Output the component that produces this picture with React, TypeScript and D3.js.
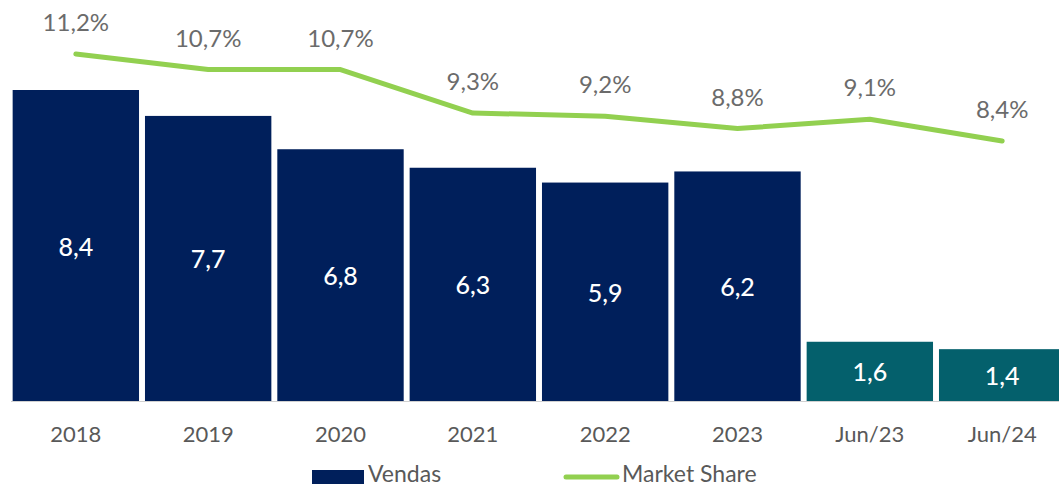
import React, { useEffect, useRef } from 'react';
import * as d3 from 'd3';

// chart data
const categories = ['2018', '2019', '2020', '2021', '2022', '2023', 'Jun/23', 'Jun/24'];
const vendas = [8.4, 7.7, 6.8, 6.3, 5.9, 6.2, 1.6, 1.4];
const marketShare = [11.2, 10.7, 10.7, 9.3, 9.2, 8.8, 9.1, 8.4];
const partial = [false, false, false, false, false, false, true, true];

const width = 1059;
const height = 487;
const baseline = 401;
const font = 'Lato, "Noto Sans", sans-serif';
const fmt = (v: number) => v.toFixed(1).replace('.', ',');

export default function App() {
  const svgRef = useRef<SVGSVGElement>(null);

  useEffect(() => {
    const svg = d3.select(svgRef.current);
    svg.selectAll('*').remove();

    const x = d3.scaleBand().domain(categories).range([10, 1068]).paddingInner(0.045).paddingOuter(0.02);
    const y = d3.scaleLinear().domain([0, 8.4]).range([baseline, 90]);
    const y2 = d3.scaleLinear().domain([8.4, 11.2]).range([141, 54]);

    // bars
    svg
      .selectAll('rect.bar')
      .data(vendas)
      .enter()
      .append('rect')
      .attr('class', 'bar')
      .attr('x', (d, i) => x(categories[i])!)
      .attr('y', d => y(d))
      .attr('width', x.bandwidth())
      .attr('height', d => baseline - y(d))
      .attr('fill', (d, i) => (partial[i] ? '#04606c' : '#001f5b'));

    // axis line
    svg
      .append('line')
      .attr('x1', 11)
      .attr('x2', width)
      .attr('y1', baseline + 0.5)
      .attr('y2', baseline + 0.5)
      .attr('stroke', '#d0d0d0')
      .attr('stroke-width', 1);

    // bar value labels
    svg
      .selectAll('text.val')
      .data(vendas)
      .enter()
      .append('text')
      .attr('class', 'val')
      .attr('x', (d, i) => x(categories[i])! + x.bandwidth() / 2)
      .attr('y', d => (y(d) + baseline) / 2)
      .attr('text-anchor', 'middle')
      .attr('dominant-baseline', 'central')
      .style('font-family', font)
      .style('font-size', '25px')
      .style('font-weight', '500')
      .style('fill', '#ffffff')
      .text(d => fmt(d));

    // category labels
    svg
      .selectAll('text.cat')
      .data(categories)
      .enter()
      .append('text')
      .attr('class', 'cat')
      .attr('x', d => x(d)! + x.bandwidth() / 2)
      .attr('y', 442)
      .attr('text-anchor', 'middle')
      .style('font-family', font)
      .style('font-size', '22px')
      .style('fill', '#595959')
      .text(d => d);

    // market share line
    const line = d3
      .line<number>()
      .x((d, i) => x(categories[i])! + x.bandwidth() / 2)
      .y(d => y2(d));
    svg
      .append('path')
      .datum(marketShare)
      .attr('d', line)
      .attr('fill', 'none')
      .attr('stroke', '#92d050')
      .attr('stroke-width', 5)
      .attr('stroke-linecap', 'round')
      .attr('stroke-linejoin', 'round');

    svg
      .selectAll('text.pct')
      .data(marketShare)
      .enter()
      .append('text')
      .attr('class', 'pct')
      .attr('x', (d, i) => x(categories[i])! + x.bandwidth() / 2)
      .attr('y', d => y2(d) - 23)
      .attr('text-anchor', 'middle')
      .style('font-family', font)
      .style('font-size', '24px')
      .style('fill', '#6b6b6b')
      .text(d => fmt(d) + '%');

    // legend
    const legend = svg.append('g');
    legend.append('rect').attr('x', 312).attr('y', 470).attr('width', 52).attr('height', 14).attr('fill', '#001f5b');
    legend
      .append('text')
      .attr('x', 368)
      .attr('y', 482)
      .style('font-family', font)
      .style('font-size', '23px')
      .style('fill', '#595959')
      .text('Vendas');
    legend
      .append('line')
      .attr('x1', 566)
      .attr('x2', 617)
      .attr('y1', 477)
      .attr('y2', 477)
      .attr('stroke', '#92d050')
      .attr('stroke-width', 5)
      .attr('stroke-linecap', 'round');
    legend
      .append('text')
      .attr('x', 622)
      .attr('y', 482)
      .style('font-family', font)
      .style('font-size', '23px')
      .style('fill', '#595959')
      .text('Market Share');
  }, []);

  return (
    <div>
      <svg
        ref={svgRef}
        width={width}
        height={height}
        style={{ position: 'absolute', left: 0, top: 0, background: '#fff' }}
      />
    </div>
  );
}
